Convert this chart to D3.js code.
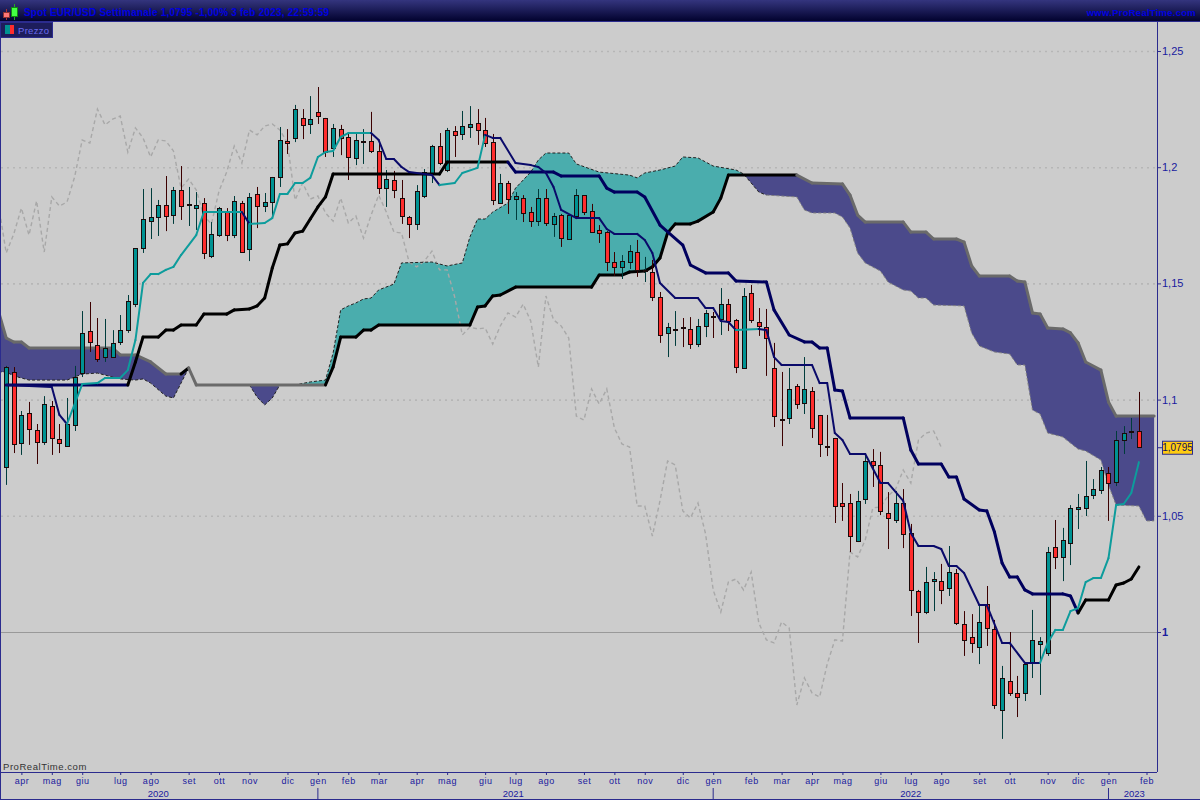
<!DOCTYPE html>
<html><head><meta charset="utf-8">
<script src="https://cdn.jsdelivr.net/npm/d3@7/dist/d3.min.js"></script>
<style>html,body{margin:0;padding:0;background:#ccc;overflow:hidden}svg{display:block}text{font-family:"Liberation Sans",Arial,sans-serif}</style>
</head><body><svg id="c" width="1200" height="800"></svg>
<script>
const open=[1.0710,1.1119,1.0813,1.0942,1.0869,1.0818,1.0972,1.0830,1.0800,1.0891,
1.1114,1.1295,1.1235,1.1183,1.1183,1.1248,1.1299,1.1411,1.1652,1.1768,
1.1786,1.1837,1.1794,1.1902,1.1837,1.1824,1.1846,1.1618,1.1708,1.1807,
1.1708,1.1846,1.1648,1.1885,1.1833,1.1850,1.1958,1.2113,1.2126,1.2212,
1.2186,1.2238,1.2212,1.2083,1.2164,1.2130,1.2040,1.2108,1.2113,1.2070,
1.1910,1.1945,1.1867,1.1786,1.1756,1.1876,1.1975,1.2091,1.1988,1.2156,
1.2143,1.2173,1.2190,1.2160,1.2108,1.1846,1.1932,1.1863,1.1867,1.1807,
1.1768,1.1867,1.1756,1.1794,1.1691,1.1790,1.1880,1.1812,1.1730,1.1721,
1.1592,1.1571,1.1592,1.1635,1.1553,1.1549,1.1441,1.1287,1.1299,1.1312,
1.1304,1.1239,1.1317,1.1360,1.1347,1.1411,1.1343,1.1136,1.1459,1.1334,
1.1312,1.1136,1.0917,1.0921,1.1058,1.0985,1.1037,1.0934,1.0800,1.0835,
1.0555,1.0555,1.0392,1.0572,1.0736,1.0719,1.0512,1.0482,1.0555,1.0426,
1.0176,1.0086,1.0219,1.0219,1.0189,1.0254,1.0034,0.9978,0.9935,1.0120,
1.0013,0.9664,0.9789,0.9738,0.9738,0.9867,0.9948,0.9910,1.0366,1.0323,
1.0383,1.0529,1.0534,1.0590,1.0611,1.0684,1.0645,1.0826,1.0861,1.0865];
const close=[1.1140,1.0809,1.0934,1.0873,1.0818,1.0981,1.0835,1.0813,1.0895,1.1097,
1.1287,1.1248,1.1175,1.1222,1.1244,1.1299,1.1424,1.1652,1.1777,1.1786,
1.1837,1.1790,1.1902,1.1833,1.1842,1.1837,1.1631,1.1713,1.1824,1.1708,
1.1855,1.1635,1.1872,1.1833,1.1850,1.1958,1.2117,1.2104,1.2250,1.2182,
1.2207,1.2220,1.2065,1.2169,1.2126,1.2044,1.2117,1.2113,1.2070,1.1910,
1.1949,1.1902,1.1790,1.1756,1.1898,1.1979,1.2091,1.2018,1.2160,1.2139,
1.2177,1.2186,1.2160,1.2104,1.1859,1.1932,1.1863,1.1876,1.1803,1.1768,
1.1867,1.1760,1.1790,1.1695,1.1794,1.1880,1.1807,1.1721,1.1717,1.1592,
1.1571,1.1596,1.1639,1.1558,1.1558,1.1441,1.1278,1.1312,1.1304,1.1308,
1.1239,1.1317,1.1373,1.1355,1.1411,1.1338,1.1140,1.1446,1.1343,1.1317,
1.1265,1.0929,1.0912,1.1046,1.0981,1.1046,1.0878,1.0809,1.0796,1.0542,
1.0542,1.0413,1.0564,1.0736,1.0719,1.0521,1.0491,1.0555,1.0422,1.0181,
1.0086,1.0215,1.0228,1.0181,1.0258,1.0039,0.9966,0.9953,1.0043,1.0017,
0.9686,0.9802,0.9738,0.9720,0.9862,0.9966,0.9961,1.0344,1.0323,1.0396,
1.0534,1.0538,1.0585,1.0615,1.0697,1.0641,1.0826,1.0856,1.0865,1.0795];
const high=[1.1145,1.1140,1.0951,1.0990,1.0895,1.1015,1.0994,1.0895,1.1007,1.1145,
1.1381,1.1420,1.1351,1.1347,1.1299,1.1364,1.1450,1.1652,1.1906,1.1910,
1.1859,1.1962,1.1915,1.2005,1.1915,1.1893,1.1867,1.1764,1.1829,1.1824,
1.1876,1.1855,1.1889,1.1915,1.1889,1.1958,1.2173,1.2164,1.2268,1.2250,
1.2306,1.2345,1.2212,1.2186,1.2182,1.2147,1.2147,1.2164,1.2238,1.2108,
1.1988,1.1984,1.1945,1.1790,1.1923,1.1992,1.2096,1.2147,1.2169,1.2177,
1.2242,1.2263,1.2250,1.2212,1.2143,1.1971,1.1941,1.1893,1.1880,1.1829,
1.1906,1.1906,1.1803,1.1799,1.1794,1.1906,1.1880,1.1842,1.1751,1.1725,
1.1635,1.1622,1.1665,1.1687,1.1614,1.1601,1.1463,1.1330,1.1381,1.1351,
1.1355,1.1347,1.1386,1.1377,1.1480,1.1433,1.1347,1.1480,1.1493,1.1394,
1.1390,1.1244,1.1119,1.1136,1.1067,1.1183,1.1054,1.0934,1.0934,1.0835,
1.0641,1.0594,1.0607,1.0757,1.0787,1.0775,1.0602,1.0607,1.0615,1.0465,
1.0181,1.0280,1.0258,1.0293,1.0370,1.0271,1.0090,1.0077,1.0116,1.0198,
1.0052,0.9854,1.0000,0.9811,0.9867,1.0095,0.9978,1.0366,1.0482,1.0448,
1.0546,1.0594,1.0736,1.0658,1.0710,1.0710,1.0865,1.0886,1.0921,1.1033];
const low=[1.0633,1.0770,1.0762,1.0805,1.0723,1.0805,1.0762,1.0770,1.0796,1.0865,
1.1097,1.1205,1.1162,1.1162,1.1179,1.1235,1.1287,1.1398,1.1631,1.1691,
1.1704,1.1725,1.1756,1.1773,1.1747,1.1730,1.1605,1.1609,1.1700,1.1682,
1.1695,1.1631,1.1596,1.1738,1.1807,1.1790,1.1915,1.2057,1.2108,1.2121,
1.2143,1.2186,1.2044,1.2044,1.2052,1.1945,1.2009,1.2014,1.2061,1.1885,
1.1829,1.1867,1.1756,1.1695,1.1730,1.1867,1.1932,1.2009,1.1979,1.2044,
1.2117,1.2126,1.2096,1.2087,1.1837,1.1842,1.1799,1.1773,1.1764,1.1743,
1.1747,1.1747,1.1700,1.1657,1.1691,1.1786,1.1794,1.1717,1.1674,1.1553,
1.1532,1.1519,1.1562,1.1528,1.1506,1.1424,1.1244,1.1183,1.1231,1.1226,
1.1218,1.1226,1.1269,1.1265,1.1278,1.1295,1.1114,1.1132,1.1330,1.1274,
1.1102,1.0882,1.0800,1.0895,1.0960,1.0938,1.0835,1.0753,1.0757,1.0469,
1.0478,1.0344,1.0387,1.0551,1.0624,1.0503,1.0357,1.0469,1.0361,1.0069,
0.9953,1.0077,1.0090,1.0120,1.0155,1.0030,0.9897,0.9910,0.9862,0.9940,
0.9669,0.9540,0.9725,0.9634,0.9703,0.9802,0.9729,0.9897,1.0271,1.0219,
1.0288,1.0443,1.0499,1.0572,1.0594,1.0478,1.0628,1.0766,1.0830,1.0792];

// Chikou span: plotted from week -1 onward
const chikouFirstWeek=-1;
const chikou=[1.1837,1.1631,1.1713,1.1824,1.1708,
1.1855,1.1635,1.1872,1.1833,1.1850,1.1958,1.2117,1.2104,1.2250,1.2182,
1.2207,1.2220,1.2065,1.2169,1.2126,1.2044,1.2117,1.2113,1.2070,1.1910,
1.1949,1.1902,1.1790,1.1756,1.1898,1.1979,1.2091,1.2018,1.2160,1.2139,
1.2177,1.2186,1.2160,1.2104,1.1859,1.1932,1.1863,1.1876,1.1803,1.1768,
1.1867,1.1760,1.1790,1.1695,1.1794,1.1880,1.1807,1.1721,1.1717,1.1592,
1.1571,1.1596,1.1639,1.1558,1.1558,1.1441,1.1278,1.1312,1.1304,1.1308,
1.1239,1.1317,1.1373,1.1355,1.1411,1.1338,1.1140,1.1446,1.1343,1.1317,
1.1265,1.0929,1.0912,1.1046,1.0981,1.1046,1.0878,1.0809,1.0796,1.0542,
1.0542,1.0413,1.0564,1.0736,1.0719,1.0521,1.0491,1.0555,1.0422,1.0181,
1.0086,1.0215,1.0228,1.0181,1.0258,1.0039,0.9966,0.9953,1.0043,1.0017,
0.9686,0.9802,0.9738,0.9720,0.9862,0.9966,0.9961,1.0344,1.0323,1.0396,
1.0534,1.0538,1.0585,1.0615,1.0697,1.0641,1.0826,1.0856,1.0865,1.0795];

const tenkanWeek=[0,6,7,8,10,12,13,15,16,17,18,19,20,21,22,23,25,26,31,32,34,35,36,37,38,39,40,41,42,43,44,45,48,49,50,51,52,53,56,57,59,60,62,63,64,65,67,69,70,71,72,73,75,78,79,80,83,84,85,86,88,91,92,93,94,95,96,99,100,101,102,106,107,108,109,110,111,113,115,116,118,119,120,122,123,124,125,126,128,129,131,132,134,136,137,138,139,140,141,142,143,144,145,146,147,148,149];
const tenkanVal=[1.1063,1.1054,1.0934,1.0895,1.1067,1.1071,1.1093,1.1093,1.1127,1.1256,1.1502,1.1540,1.1540,1.1558,1.1571,1.1622,1.1708,1.1807,1.1807,1.1756,1.1760,1.1781,1.1885,1.1885,1.1932,1.1932,1.1954,1.2044,1.2065,1.2070,1.2130,1.2147,1.2147,1.2117,1.2035,1.2035,1.2001,1.1979,1.1966,1.1923,1.1932,1.1975,1.1997,1.2139,1.2126,1.2126,1.2018,1.2009,1.2001,1.1975,1.1915,1.1816,1.1781,1.1781,1.1734,1.1713,1.1713,1.1687,1.1631,1.1502,1.1437,1.1437,1.1394,1.1394,1.1338,1.1334,1.1299,1.1304,1.1299,1.1183,1.1149,1.1149,1.1071,1.1071,1.0856,1.0826,1.0766,1.0766,1.0641,1.0641,1.0564,1.0426,1.0370,1.0370,1.0357,1.0284,1.0284,1.0254,1.0116,1.0116,0.9953,0.9953,0.9867,0.9867,0.9953,1.0009,1.0009,1.0090,1.0103,1.0215,1.0232,1.0232,1.0318,1.0546,1.0551,1.0598,1.0731];

const kijunWeek=[0,16,17,18,20,21,22,23,25,26,29,30,32,33,34,35,36,37,38,39,40,41,42,43,57,58,66,67,72,73,78,79,80,83,84,86,89,90,92,95,96,100,101,103,105,106,107,108,109,110,111,118,119,120,123,124,125,126,128,129,130,131,132,133,134,135,139,140,141,142,145,146,147,148,149];
const kijunVal=[1.1063,1.1063,1.1162,1.1269,1.1269,1.1299,1.1299,1.1321,1.1321,1.1368,1.1368,1.1386,1.1390,1.1403,1.1437,1.1566,1.1665,1.1670,1.1717,1.1725,1.1777,1.1829,1.1872,1.1971,1.1971,1.2022,1.2022,1.1979,1.1979,1.1962,1.1962,1.1910,1.1893,1.1893,1.1872,1.1751,1.1665,1.1579,1.1545,1.1545,1.1510,1.1506,1.1386,1.1278,1.1248,1.1248,1.1222,1.1222,1.1041,1.1037,1.0921,1.0921,1.0783,1.0723,1.0723,1.0667,1.0667,1.0572,1.0525,1.0521,1.0430,1.0297,1.0237,1.0237,1.0181,1.0164,1.0164,1.0155,1.0082,1.0138,1.0138,1.0202,1.0211,1.0228,1.0280];

const senkouAWeek=[-1,0,1,3,8,10,12,14,15,17,18,19,21,22,23,24,25,32,33,34,35,36,38,40,42,43,44,45,46,47,48,49,51,52,56,58,60,61,62,63,64,66,67,69,70,71,74,75,78,82,83,84,86,88,89,91,93,96,97,99,100,104,105,106,109,110,111,112,113,115,116,117,118,119,120,121,122,126,127,128,130,132,133,134,135,136,137,139,141,142,144,145,146,149,150,151];
const senkouAVal=[1.1119,1.1119,1.1102,1.1084,1.1084,1.1110,1.1114,1.1097,1.1089,1.1084,1.1089,1.1071,1.1015,1.1007,1.1071,1.1136,1.1063,1.1063,1.1011,1.0977,1.1007,1.1063,1.1063,1.1076,1.1084,1.1200,1.1386,1.1403,1.1416,1.1433,1.1437,1.1472,1.1497,1.1588,1.1592,1.1575,1.1588,1.1700,1.1777,1.1777,1.1807,1.1846,1.1910,1.1979,1.2031,1.2061,1.2061,1.2014,1.1979,1.1966,1.1954,1.1975,1.1988,1.2005,1.2044,1.2040,1.2005,1.1988,1.1971,1.1893,1.1880,1.1872,1.1816,1.1803,1.1803,1.1786,1.1738,1.1631,1.1588,1.1553,1.1506,1.1489,1.1472,1.1467,1.1437,1.1437,1.1407,1.1403,1.1287,1.1231,1.1205,1.1196,1.1149,1.1149,1.0955,1.0938,1.0856,1.0839,1.0787,1.0779,1.0740,1.0633,1.0546,1.0542,1.0478,1.0478];

const senkouBWeek=[-1,0,1,2,3,14,15,17,19,21,23,24,25,42,43,44,46,47,48,49,61,62,63,64,65,67,77,78,81,82,84,85,86,87,88,90,91,93,94,95,104,106,110,111,112,113,118,119,121,122,125,126,127,128,132,133,134,135,136,137,139,140,141,142,144,145,146,151];
const senkouBVal=[1.1377,1.1265,1.1248,1.1248,1.1222,1.1222,1.1192,1.1192,1.1162,1.1110,1.1110,1.1136,1.1063,1.1063,1.1140,1.1269,1.1269,1.1299,1.1299,1.1321,1.1321,1.1398,1.1403,1.1446,1.1450,1.1484,1.1484,1.1536,1.1536,1.1549,1.1553,1.1571,1.1609,1.1717,1.1756,1.1756,1.1768,1.1807,1.1867,1.1966,1.1966,1.1932,1.1928,1.1880,1.1794,1.1764,1.1764,1.1721,1.1721,1.1691,1.1691,1.1678,1.1575,1.1532,1.1532,1.1510,1.1506,1.1373,1.1368,1.1308,1.1304,1.1287,1.1244,1.1162,1.1127,1.0990,1.0929,1.0929];

const kumoBull=[[38,97]];
const kumoBear=[[-1,24],[32,36],[97,151]];
const senkouBBull=[[23,24],[42,104]];

const priceTicks=[1,1.05,1.1,1.15,1.2,1.25];
const priceLabels=["1","1,05","1,1","1,15","1,2","1,25"];
const lastPrice=1.0795;
const monthWeeks=[2,6,10,15,19,24,28,32,37,41,45,49,54,58,63,67,71,76,80,84,89,93,98,102,106,110,115,119,123,128,132,137,141,145,150];
const monthLabels=["apr","mag","giu","lug","ago","set","ott","nov","dic","gen","feb","mar","apr","mag","giu","lug","ago","set","ott","nov","dic","gen","feb","mar","apr","mag","giu","lug","ago","set","ott","nov","dic","gen","feb"];
const yearLabels=["2020","2021","2022","2023"];
const yearCentreWeeks=[20,66.7,119,148.4];
const yearStartWeeks=[41,93,145];

const C={bg:"#cccccc",navy:"#2b2b8e",txt:"#1a1a9e",teal:"#009292",red:"#ff2d2d",kumoUp:"#4aadad",kumoDn:"#4b4a8b",t:"#0d9c9c",k:"#00005e"};
const W=1200,H=800,L=1,R=1157,T=22,B=772;
const x=d3.scaleLinear().domain([0,149]).range([6.2,1138.9]);
const y=d3.scaleLinear().domain([1,1.25]).range([632,51]);
const svg=d3.select("#c");
svg.append("rect").attr("width",W).attr("height",H).attr("fill",C.bg);
const defs=svg.append("defs");
const gr=defs.append("linearGradient").attr("id","hd").attr("x1",0).attr("x2",0).attr("y1",0).attr("y2",1);
gr.append("stop").attr("offset",0).attr("stop-color","#34357e");
gr.append("stop").attr("offset",1).attr("stop-color","#02022e");
defs.append("clipPath").attr("id","plot").append("rect").attr("x",L).attr("y",T).attr("width",R-L).attr("height",B-T);

const g=svg.append("g").attr("clip-path","url(#plot)");
// grid
priceTicks.forEach(v=>{
 g.append("line").attr("x1",L).attr("x2",R).attr("y1",y(v)+.5).attr("y2",y(v)+.5)
  .attr("stroke",v===1?"#999999":"#b6b6b6").attr("stroke-width",v===1?1:1.6).attr("stroke-dasharray",v===1?null:"2,4");
});
const pairs=(w,v)=>w.map((d,i)=>[d,v[i]]);
const A=pairs(senkouAWeek,senkouAVal),Bb=pairs(senkouBWeek,senkouBVal);
const ln=d3.line().x(d=>x(d[0])).y(d=>y(d[1]));
const poly=([a,b])=>A.filter(d=>d[0]>=a&&d[0]<=b).concat(Bb.filter(d=>d[0]>=a&&d[0]<=b).reverse());
kumoBull.forEach(r=>g.append("path").attr("d",ln(poly(r))+"Z").attr("fill",C.kumoUp));
kumoBear.forEach(r=>g.append("path").attr("d",ln(poly(r))+"Z").attr("fill",C.kumoDn));
// chikou
g.append("path").attr("d",ln(chikou.map((v,i)=>[chikouFirstWeek+i,v]))).attr("fill","none")
 .attr("stroke","#a8a8a8").attr("stroke-width",1.4).attr("stroke-dasharray","4,3");
// senkou A dashed
g.append("path").attr("d",ln(A.filter(d=>d[0]<=100))).attr("fill","none").attr("stroke","#222222").attr("stroke-width",1).attr("stroke-dasharray","3,2");
g.append("path").attr("d",ln(A.filter(d=>d[0]>=100))).attr("fill","none").attr("stroke","#808080").attr("stroke-width",1).attr("stroke-dasharray","3,2");
// senkou B thick
const inR=(rs,a,b)=>rs.some(r=>a>=r[0]&&b<=r[1]);
g.append("g").selectAll("path").data(d3.pairs(Bb)).join("path").attr("d",d=>ln(d))
 .attr("fill","none").attr("stroke-width",3).attr("stroke-linecap","round")
 .attr("stroke",d=>inR(senkouBBull,d[0][0],d[1][0])?"#000000":"#6a6a6a");
// candles
const weeks=d3.range(close.length);
const cg=g.append("g");
cg.selectAll("line").data(weeks).join("line")
 .attr("x1",i=>Math.round(x(i))+.5).attr("x2",i=>Math.round(x(i))+.5)
 .attr("y1",i=>y(high[i])).attr("y2",i=>y(low[i]))
 .attr("stroke",i=>close[i]>=open[i]?"#003c3c":"#3c0000").attr("stroke-width",1);
cg.selectAll("rect").data(weeks).join("rect")
 .attr("x",i=>Math.round(x(i))-1.5).attr("width",4)
 .attr("y",i=>Math.round(y(Math.max(open[i],close[i])))+.5)
 .attr("height",i=>Math.max(1,Math.round(Math.abs(y(open[i])-y(close[i])))))
 .attr("fill",i=>close[i]>=open[i]?C.teal:C.red)
 .attr("stroke","#1a0a0a").attr("stroke-width",1);
// state-colour lines
function stateSegs(pts,upCol,dnCol,start){let c=start;return d3.pairs(pts).map(p=>{if(p[1][1]>p[0][1])c=upCol;else if(p[1][1]<p[0][1])c=dnCol;return {p,c};});}
g.append("g").selectAll("path").data(stateSegs(pairs(kijunWeek,kijunVal),"#000000",C.k,C.k)).join("path")
 .attr("d",d=>ln(d.p)).attr("fill","none").attr("stroke",d=>d.c).attr("stroke-width",3).attr("stroke-linecap","round");
g.append("g").selectAll("path").data(stateSegs(pairs(tenkanWeek,tenkanVal),C.t,"#0a0a6a","#0a0a6a")).join("path")
 .attr("d",d=>ln(d.p)).attr("fill","none").attr("stroke",d=>d.c).attr("stroke-width",2).attr("stroke-linecap","round");

// frame
const fr=svg.append("g").attr("stroke",C.navy).attr("stroke-width",1).attr("shape-rendering","crispEdges");
fr.append("line").attr("x1",.5).attr("x2",.5).attr("y1",T).attr("y2",H);
fr.append("line").attr("x1",R).attr("x2",R).attr("y1",T).attr("y2",B);
fr.append("line").attr("x1",0).attr("x2",R).attr("y1",B).attr("y2",B);
fr.append("line").attr("x1",0).attr("x2",W).attr("y1",H-1).attr("y2",H-1);
// price axis
const ya=svg.append("g").attr("transform",`translate(${R},0)`)
 .call(d3.axisRight(y).tickValues(priceTicks).tickSize(4).tickPadding(1).tickFormat(v=>priceLabels[priceTicks.indexOf(v)]));
ya.select(".domain").remove();
ya.selectAll("line").attr("stroke",C.navy);
ya.selectAll("text").attr("fill",C.txt).attr("font-size",11).attr("font-weight",v=>v===1?"bold":"normal").style("font-family",'"Liberation Sans",Arial,sans-serif');
// last price tag
svg.append("line").attr("x1",R).attr("x2",R+5).attr("y1",y(lastPrice)+.5).attr("y2",y(lastPrice)+.5).attr("stroke",C.navy);
svg.append("rect").attr("x",1162.5).attr("y",y(lastPrice)-6).attr("width",30).attr("height",13).attr("fill","#ffcc11").attr("stroke",C.navy);
svg.append("text").attr("x",1177.5).attr("y",y(lastPrice)+4).attr("text-anchor","middle").attr("font-size",10).attr("fill","#10105a").text("1,0795");
// time axis
const xa=svg.append("g").attr("transform",`translate(0,${B})`)
 .call(d3.axisBottom(x).tickValues(monthWeeks).tickSize(3).tickPadding(3).tickFormat(w=>monthLabels[monthWeeks.indexOf(w)]));
xa.select(".domain").remove();
xa.selectAll("line").attr("stroke",C.navy);
xa.selectAll("text").attr("fill",C.txt).attr("font-size",9).attr("letter-spacing",.5).style("font-family",'"Liberation Sans",Arial,sans-serif');
yearStartWeeks.forEach(w=>svg.append("line").attr("x1",x(w)).attr("x2",x(w)).attr("y1",788).attr("y2",H).attr("stroke",C.navy));
yearLabels.forEach((t,i)=>svg.append("text").attr("x",x(yearCentreWeeks[i])).attr("y",797).attr("text-anchor","middle").attr("font-size",9.5).attr("fill",C.txt).text(t));
svg.append("text").attr("x",3).attr("y",770).attr("font-size",9.5).attr("fill","#333333").attr("letter-spacing",.55).text("ProRealTime.com");
// header
svg.append("rect").attr("width",W).attr("height",21).attr("fill","url(#hd)");
svg.append("line").attr("x1",0).attr("x2",W).attr("y1",21.5).attr("y2",21.5).attr("stroke",C.navy);
svg.append("text").attr("x",24).attr("y",16).attr("font-size",10).attr("font-weight","bold").attr("fill","#0000e0").attr("letter-spacing",.2).text("Spot EUR/USD  Settimanale 1,0795 -1,00% 3 feb 2023, 22:59:59");
svg.append("text").attr("x",1196).attr("y",16).attr("text-anchor","end").attr("font-size",9.5).attr("font-weight","bold").attr("fill","#0000e0").attr("letter-spacing",.25).text("www.ProRealTime.com");
const ic=svg.append("g");
ic.append("line").attr("x1",6.5).attr("x2",6.5).attr("y1",9).attr("y2",20).attr("stroke","#a33");
ic.append("rect").attr("x",3.5).attr("y",12.5).attr("width",6).attr("height",5).attr("fill","#f77").attr("stroke","#833");
ic.append("line").attr("x1",14.5).attr("x2",14.5).attr("y1",4).attr("y2",20).attr("stroke","#2a2");
ic.append("rect").attr("x",11.5).attr("y",7.5).attr("width",6).attr("height",9).attr("fill","#4f4").attr("stroke","#181");
// legend
svg.append("rect").attr("x",.5).attr("y",22.5).attr("width",52).attr("height",15).attr("fill","#1d1d5c").attr("stroke",C.navy);
svg.append("rect").attr("x",5).attr("y",25).attr("width",5).attr("height",9).attr("fill",C.teal);
svg.append("rect").attr("x",10).attr("y",25).attr("width",4).attr("height",9).attr("fill",C.red);
svg.append("text").attr("x",18).attr("y",33.5).attr("font-size",9.5).attr("letter-spacing",.3).attr("fill","#6a6aee").text("Prezzo");
</script></body></html>
